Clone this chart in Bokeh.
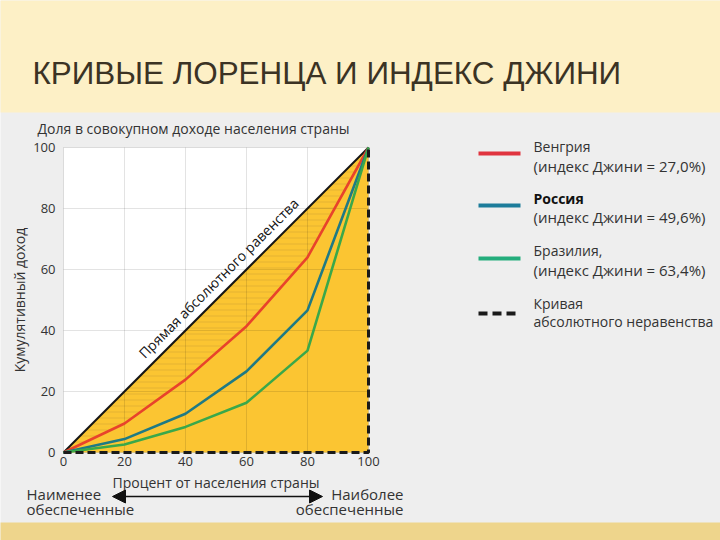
from bokeh.plotting import figure
from bokeh.models import Range1d, FixedTicker, Label, BoxAnnotation, Arrow, NormalHead
from bokeh.embed import file_html
from bokeh.resources import INLINE

# ---------------- data ----------------
population = [0, 20, 40, 60, 80, 100]
hungary = [0, 9.5, 23.9, 41.4, 64.0, 100]
russia = [0, 4.4, 12.7, 26.6, 46.6, 100]
brazil = [0, 2.6, 8.4, 16.3, 33.4, 100]
equality_x = [0, 100]
equality_y = [0, 100]
inequality_x = [0, 100, 100]
inequality_y = [0, 0, 100]
x_ticks = [0, 20, 40, 60, 80, 100]
y_ticks = [0, 20, 40, 60, 80, 100]

FONT = "Open Sans"
TXT = "#333333"

# ---------------- layout (picture pixels) ----------------
W, H = 720, 540
K = 3.05                 # pixels per data unit
X0, Y0 = 63, 452         # picture position of the data origin

def sx(px):              # picture x -> screen units inside the frame
    return px
def sy(py):              # picture y -> screen units (measured from bottom)
    return H - py

p = figure(width=W, height=H, title=None,
           x_range=Range1d((0 - X0) / K, (W - X0) / K),
           y_range=Range1d((Y0 - H) / K, Y0 / K),
           output_backend="svg", toolbar_location=None, min_border=0)

p.background_fill_color = "#eeeeee"
p.border_fill_color = "#eeeeee"
p.outline_line_color = None
p.grid.visible = False

# background bands
p.add_layout(BoxAnnotation(left=sx(-10), right=sx(730), bottom=sy(112), top=sy(-10),
                           left_units="screen", right_units="screen",
                           bottom_units="screen", top_units="screen",
                           fill_color="#fdf0c6", fill_alpha=1, line_color=None,
                           level="underlay"))
p.add_layout(BoxAnnotation(left=sx(-10), right=sx(730), bottom=sy(560), top=sy(522),
                           left_units="screen", right_units="screen",
                           bottom_units="screen", top_units="screen",
                           fill_color="#eed58c", fill_alpha=1, line_color=None,
                           level="underlay"))

# axes drawn at the data origin
for ax, ticks in ((p.xaxis, x_ticks), (p.yaxis, y_ticks)):
    ax.fixed_location = 0
    ax.bounds = (ticks[0], ticks[-1])
    ax.ticker = FixedTicker(ticks=ticks)
    ax.axis_line_color = None
    ax.major_tick_line_color = None
    ax.minor_tick_line_color = None
    ax.major_tick_out = 0
    ax.major_tick_in = 0
    ax.major_label_text_font = FONT
    ax.major_label_text_font_size = "13px"
    ax.major_label_text_color = TXT
    ax.axis_label_text_font = FONT
    ax.axis_label_text_font_size = "14px"
    ax.axis_label_text_font_style = "normal"
    ax.axis_label_text_color = TXT

p.xaxis.axis_label = "Процент от населения страны"
p.yaxis.axis_label = "Кумулятивный доход"
p.xaxis.major_label_standoff = 4
p.xaxis.axis_label_standoff = 4
p.yaxis.major_label_standoff = 8
p.yaxis.axis_label_standoff = 1

# plot area
p.quad(left=[x_ticks[0]], right=[x_ticks[-1]], bottom=[y_ticks[0]], top=[y_ticks[-1]],
       fill_color="white", line_color=None)
# golden area under the equality line
p.patch(inequality_x + equality_x[:1], inequality_y + equality_y[:1],
        fill_color="#fbc532", line_color=None)
# hatched area between equality line and Hungary curve
p.patch(population + population[::-1], population + hungary[::-1],
        fill_alpha=0, line_color=None, hatch_pattern="horizontal_line",
        hatch_color="#a88430", hatch_alpha=0.28, hatch_scale=6, hatch_weight=1)
# grid lines
p.segment(x0=x_ticks, y0=[y_ticks[0]] * len(x_ticks), x1=x_ticks,
          y1=[y_ticks[-1]] * len(x_ticks), line_color="#000000", line_alpha=0.11)
p.segment(x0=[x_ticks[0]] * len(y_ticks), y0=y_ticks, x1=[x_ticks[-1]] * len(y_ticks),
          y1=y_ticks, line_color="#000000", line_alpha=0.11)

# curves
p.line(equality_x, equality_y, line_color="#151515", line_width=2)
p.line(population, hungary, line_color="#e8432b", line_width=2.6)
p.line(population, russia, line_color="#1f7a84", line_width=2.6)
p.line(population, brazil, line_color="#3aa84a", line_width=2.6)
p.line(inequality_x, inequality_y, line_color="#1a1a1a", line_width=3,
       line_dash="8 4")

p.add_layout(Label(x=50.8, y=57.2, text="Прямая абсолютного равенства", angle=45,
                   angle_units="deg", text_align="center", text_baseline="middle",
                   text_font=FONT, text_font_size="14px", text_color="#111111"))

# titles
p.add_layout(Label(x=sx(32), y=sy(73), x_units="screen", y_units="screen",
                   text="КРИВЫЕ ЛОРЕНЦА И ИНДЕКС ДЖИНИ", text_baseline="middle",
                   text_font="Liberation Sans", text_font_size="31.4px",
                   text_color="#3b3324"))
p.add_layout(Label(x=sx(37), y=sy(128), x_units="screen", y_units="screen",
                   text="Доля в совокупном доходе населения страны",
                   text_baseline="middle", text_font=FONT,
                   text_font_size="14px", text_color=TXT))

# legend
legend_rows = [
    ("#e0343f", 153, None, "Венгрия", "normal", 146, "(индекс Джини = 27,0%)", 165),
    ("#1c7c9a", 205, None, "Россия", "bold", 198, "(индекс Джини = 49,6%)", 216),
    ("#24ad7c", 258, None, "Бразилия,", "normal", 250, "(индекс Джини = 63,4%)", 269),
    ("#1a1a1a", 313, "9 5", "Кривая", "normal", 303, "абсолютного неравенства", 321),
]
for color, ly, dash, t1, st1, y1, t2, y2 in legend_rows:
    kw = dict(line_dash=dash) if dash else {}
    p.add_layout(Arrow(end=None, x_start=sx(478), y_start=sy(ly), x_end=sx(520),
                       y_end=sy(ly), start_units="screen", end_units="screen",
                       line_color=color, line_width=4, **kw))
    p.add_layout(Label(x=sx(533), y=sy(y1), x_units="screen", y_units="screen",
                       text=t1, text_baseline="middle", text_font=FONT,
                       text_font_size="14px", text_font_style=st1,
                       text_color="#111111" if st1 == "bold" else TXT))
    p.add_layout(Label(x=sx(533), y=sy(y2), x_units="screen", y_units="screen",
                       text=t2, text_baseline="middle", text_font=FONT,
                       text_font_size="14px" if dash else "15px", text_color=TXT))

# bottom arrow and captions
p.add_layout(Arrow(start=NormalHead(size=13, fill_color="#111111", line_color="#111111"),
                   end=NormalHead(size=13, fill_color="#111111", line_color="#111111"),
                   x_start=sx(112), y_start=sy(496), x_end=sx(322), y_end=sy(496),
                   start_units="screen", end_units="screen",
                   line_color="#111111", line_width=1.5))
for txt, xx, yy, al in (("Наименее", 26, 493, "left"), ("обеспеченные", 26, 508, "left"),
                        ("Наиболее", 403, 493, "right"), ("обеспеченные", 403, 508, "right")):
    p.add_layout(Label(x=sx(xx), y=sy(yy), x_units="screen", y_units="screen",
                       text=txt, text_align=al, text_baseline="middle",
                       text_font=FONT, text_font_size="15px", text_color=TXT))

open("out.html", "w").write(file_html(p, INLINE))
